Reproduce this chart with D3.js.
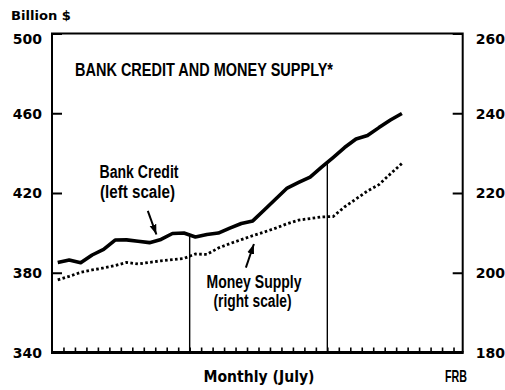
<!DOCTYPE html>
<html><head><meta charset="utf-8">
<script src="https://cdn.jsdelivr.net/npm/d3@7"></script>
<style>
html,body{margin:0;padding:0;background:#fff;}
svg{display:block;}
text{fill:#000;}
</style></head><body>
<svg id="chart" width="505" height="390"></svg>
<script>
// Monthly series, each value drawn at the middle of its month (index + 0.5)
const bankCredit = [385.1,386.4,385.0,388.9,391.7,396.4,396.5,395.8,395.1,396.7,399.7,399.9,397.9,399.2,399.9,402.4,404.7,406.0,411.5,417.0,422.5,425.3,428.0,433.0,437.8,442.8,447.1,448.8,452.8,456.6,459.9];
const moneySupply = [198.2,199.1,200.1,200.7,201.2,201.8,202.6,202.2,202.6,203.0,203.3,203.6,204.7,204.6,206.2,207.3,208.3,209.3,210.2,211.2,212.3,213.2,213.6,214.0,214.1,216.5,218.5,220.5,222.1,224.8,227.4];
const leftTicks = [340,380,420,460,500];
const rightTicks = [180,200,220,240,260];
const monthTicks = d3.range(1,36);
const julyMarks = [12,24];

const svg = d3.select("#chart");
const numFont = "'DejaVu Sans', sans-serif";
const condFont = "'Liberation Sans', Arial, sans-serif";

const x = d3.scaleLinear().domain([0,35.8]).range([52,462.7]);
const yL = d3.scaleLinear().domain([340,500]).range([352.5,33.5]);
const yR = d3.scaleLinear().domain([180,260]).range([352.5,33.5]);
const plotLeft = x.range()[0], plotRight = x.range()[1];
const plotTop = yL.range()[1], plotBottom = yL.range()[0];

// Left scale (billions of dollars)
const gL = svg.append("g").attr("transform",`translate(${plotLeft},0)`)
  .call(d3.axisLeft(yL).tickValues(leftTicks).tickSize(-10).tickPadding(10).tickFormat(d3.format("d")));
// Right scale
const gR = svg.append("g").attr("transform",`translate(${plotRight},0)`)
  .call(d3.axisRight(yR).tickValues(rightTicks).tickSize(-10).tickPadding(13).tickFormat(d3.format("d")));
[gL,gR].forEach(g=>{
  g.select(".domain").remove();
  g.selectAll(".tick line").attr("stroke","#000").attr("stroke-width",2);
  g.selectAll(".tick text").attr("font-family",numFont).attr("font-weight","bold")
    .attr("font-size",14).attr("fill","#000")
    .attr("dy", (d,i,n)=> i===n.length-1 ? "0.7em" : "0.34em");
});
// Monthly ticks along the bottom
const gB = svg.append("g").attr("transform",`translate(0,${plotBottom})`)
  .call(d3.axisBottom(x).tickValues(monthTicks).tickSize(-5).tickFormat(""));
gB.select(".domain").remove();
gB.selectAll(".tick line").attr("stroke","#000").attr("stroke-width",1.6);

// Frame
svg.append("path")
  .attr("d",`M${plotLeft},${plotBottom}V${plotTop}H${plotRight}V${plotBottom}`)
  .attr("fill","none").attr("stroke","#000").attr("stroke-width",2);
svg.append("line").attr("x1",plotLeft-1).attr("x2",plotRight+1).attr("y1",plotBottom).attr("y2",plotBottom)
  .attr("stroke","#000").attr("stroke-width",3);

// July markers: vertical rule from the bank credit line down to the axis
julyMarks.forEach(m=>{
  const v = (bankCredit[m-1]+bankCredit[m])/2;
  svg.append("line").attr("x1",x(m)).attr("x2",x(m)).attr("y1",yL(v)).attr("y2",plotBottom)
    .attr("stroke","#000").attr("stroke-width",1.4);
});

// Series lines
const lineL = d3.line().x((d,i)=>x(i+0.5)).y(d=>yL(d));
const lineR = d3.line().x((d,i)=>x(i+0.5)).y(d=>yR(d));
svg.append("path").datum(moneySupply).attr("d",lineR)
  .attr("fill","none").attr("stroke","#000").attr("stroke-width",2.8)
  .attr("stroke-dasharray","2.6 2.4");
svg.append("path").datum(bankCredit).attr("d",lineL)
  .attr("fill","none").attr("stroke","#000").attr("stroke-width",3.6)
  .attr("stroke-linejoin","round");

// Arrow heads
svg.append("defs").append("marker").attr("id","head")
  .attr("markerUnits","userSpaceOnUse").attr("viewBox","0 -4 10 8")
  .attr("refX",10).attr("refY",0).attr("markerWidth",10).attr("markerHeight",8)
  .attr("orient","auto")
  .append("path").attr("d","M0,-3.5L10,0L0,3.5Z").attr("fill","#000");

function arrow(x1,y1,x2,y2){
  svg.append("line").attr("x1",x1).attr("y1",y1).attr("x2",x2).attr("y2",y2)
    .attr("stroke","#000").attr("stroke-width",2).attr("marker-end","url(#head)");
}
arrow(x(8.35), yL(411), x(9.1), yL(399.2));
arrow(x(16.9), yR(201.3), x(17.6), yR(207.2));

// Text
function label(txt, xp, yp, size, len, anchor, family){
  svg.append("text").attr("x",xp).attr("y",yp).text(txt)
    .attr("font-family",family||condFont).attr("font-weight","bold")
    .attr("font-size",size).attr("text-anchor",anchor||"start")
    .attr("textLength",len).attr("lengthAdjust","spacingAndGlyphs");
}
label("Billion $", 11, 20, 13, 60, "start", numFont);
label("BANK CREDIT AND MONEY SUPPLY*", 75, 75.5, 17.5, 258);
label("Bank Credit", 139, 178, 17.5, 79, "middle");
label("(left scale)", 137.5, 197.5, 17.5, 75, "middle");
label("Money Supply", 254, 287.5, 17.5, 95, "middle");
label("(right scale)", 252.5, 307, 17.5, 78, "middle");
label("Monthly (July)", 203.5, 381.5, 15, 111, "start", numFont);
label("FRB", 445, 381.5, 17, 22);
</script>
</body></html>
